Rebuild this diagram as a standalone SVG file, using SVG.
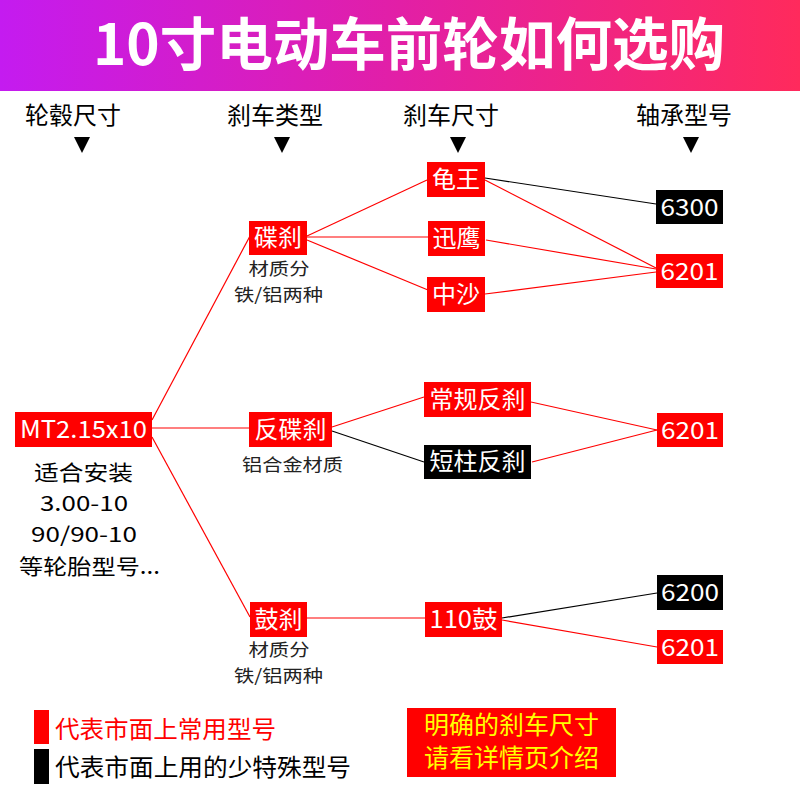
<svg xmlns="http://www.w3.org/2000/svg" width="800" height="800" viewBox="0 0 800 800">
<defs>
<linearGradient id="hdr" x1="0" y1="0" x2="1" y2="0">
<stop offset="0" stop-color="#c41bf0"/>
<stop offset="0.5" stop-color="#e21fa6"/>
<stop offset="1" stop-color="#ff2a5c"/>
</linearGradient>
</defs>
<style>
text{font-family:"Noto Sans CJK SC","Noto Sans",sans-serif}
.title{font-size:57px;font-weight:bold;fill:#fff}
.col{font-size:24px;fill:#000}
.tri{fill:#000}
.red{fill:#ff0000}
.blk{fill:#000}
.nt{font-size:24px;fill:#fff;text-anchor:middle}
.sub{font-size:17.5px;fill:#222;text-anchor:middle}
.big{font-size:21px;fill:#000;text-anchor:middle}
.lr{stroke:#ff0000;stroke-width:1.2;fill:none}
.lb{stroke:#000;stroke-width:1.2;fill:none}
.leg{font-size:24px}
.yel{font-size:25px;fill:#ffff00;text-anchor:middle}
</style>
<rect x="0" y="0" width="800" height="91" fill="url(#hdr)"/>
<text class="title" x="409" y="65" text-anchor="middle" textLength="632" lengthAdjust="spacingAndGlyphs">10寸电动车前轮如何选购</text>

<g id="headers">
<text class="col" x="73" y="124" text-anchor="middle">轮毂尺寸</text>
<text class="col" x="275" y="124" text-anchor="middle">刹车类型</text>
<text class="col" x="451" y="124" text-anchor="middle">刹车尺寸</text>
<text class="col" x="684" y="124" text-anchor="middle">轴承型号</text>
<path class="tri" d="M74,137 L90,137 L82,153 Z"/>
<path class="tri" d="M274,137 L290,137 L282,153 Z"/>
<path class="tri" d="M450,137 L466,137 L458,153 Z"/>
<path class="tri" d="M683,137 L699,137 L691,153 Z"/>
</g>

<g id="connectors">
<line class="lr" x1="152" y1="420" x2="250" y2="236"/>
<line class="lr" x1="152" y1="428" x2="250" y2="428"/>
<line class="lr" x1="152" y1="437" x2="250" y2="617"/>
<line class="lr" x1="307" y1="236" x2="427" y2="180"/>
<line class="lr" x1="307" y1="237" x2="428" y2="237"/>
<line class="lr" x1="307" y1="240" x2="428" y2="290"/>
<line class="lb" x1="485" y1="178" x2="656" y2="204"/>
<line class="lr" x1="485" y1="180" x2="656" y2="268"/>
<line class="lr" x1="486" y1="240" x2="656" y2="269"/>
<line class="lr" x1="485" y1="294" x2="656" y2="272"/>
<line class="lr" x1="332" y1="427" x2="424" y2="397"/>
<line class="lb" x1="332" y1="431" x2="424" y2="462"/>
<line class="lr" x1="531" y1="402" x2="657" y2="430"/>
<line class="lr" x1="532" y1="462" x2="657" y2="430"/>
<line class="lr" x1="307" y1="618" x2="425" y2="618"/>
<line class="lb" x1="502" y1="618" x2="657" y2="593"/>
<line class="lr" x1="502" y1="620" x2="657" y2="647"/>
</g>

<g id="n-mt">
<rect class="red" x="15" y="412" width="137" height="35"/>
<text class="nt" x="83.5" y="438" textLength="127" lengthAdjust="spacingAndGlyphs">MT2.15x10</text>
<text class="big" x="83.5" y="480" textLength="99" lengthAdjust="spacingAndGlyphs">适合安装</text>
<text class="big" x="84" y="511" textLength="88" lengthAdjust="spacingAndGlyphs">3.00-10</text>
<text class="big" x="84" y="542" textLength="106" lengthAdjust="spacingAndGlyphs">90/90-10</text>
<text class="big" x="89.5" y="574" textLength="141" lengthAdjust="spacingAndGlyphs">等轮胎型号...</text>
</g>

<g id="n-diebrake">
<rect class="red" x="249" y="221" width="58" height="34"/>
<text class="nt" x="278" y="246">碟刹</text>
<text class="sub" x="279" y="275" textLength="61" lengthAdjust="spacingAndGlyphs">材质分</text>
<text class="sub" x="278.5" y="301" textLength="89" lengthAdjust="spacingAndGlyphs">铁/铝两种</text>
</g>

<g id="n-fandie">
<rect class="red" x="249" y="412" width="83" height="35"/>
<text class="nt" x="290.5" y="438">反碟刹</text>
<text class="sub" x="292.5" y="471" textLength="101" lengthAdjust="spacingAndGlyphs">铝合金材质</text>
</g>

<g id="n-gu">
<rect class="red" x="250" y="602" width="57" height="35"/>
<text class="nt" x="278.5" y="628">鼓刹</text>
<text class="sub" x="279" y="656" textLength="61" lengthAdjust="spacingAndGlyphs">材质分</text>
<text class="sub" x="278.5" y="682" textLength="89" lengthAdjust="spacingAndGlyphs">铁/铝两种</text>
</g>

<g id="n-guiwang">
<rect class="red" x="427" y="162" width="58" height="35"/>
<text class="nt" x="456" y="188">龟王</text>
</g>
<g id="n-xunying">
<rect class="red" x="428" y="221" width="57" height="35"/>
<text class="nt" x="456.5" y="247">迅鹰</text>
</g>
<g id="n-zhongsha">
<rect class="red" x="427" y="277" width="58" height="35"/>
<text class="nt" x="456" y="303">中沙</text>
</g>
<g id="n-changgui">
<rect class="red" x="424" y="382" width="107" height="35"/>
<text class="nt" x="477.5" y="408">常规反刹</text>
</g>
<g id="n-duanzhu">
<rect class="blk" x="424" y="445" width="107" height="34"/>
<text class="nt" x="477.5" y="470">短柱反刹</text>
</g>
<g id="n-110gu">
<rect class="red" x="425" y="602" width="77" height="35"/>
<text class="nt" x="463.5" y="628" textLength="68" lengthAdjust="spacingAndGlyphs">110鼓</text>
</g>

<g id="n-6300">
<rect class="blk" x="656" y="190" width="67" height="34"/>
<text class="nt" x="689.5" y="216" textLength="58" lengthAdjust="spacingAndGlyphs">6300</text>
</g>
<g id="n-6201a">
<rect class="red" x="656" y="254" width="67" height="34"/>
<text class="nt" x="689.5" y="280" textLength="58" lengthAdjust="spacingAndGlyphs">6201</text>
</g>
<g id="n-6201b">
<rect class="red" x="657" y="413" width="66" height="34"/>
<text class="nt" x="690" y="439" textLength="58" lengthAdjust="spacingAndGlyphs">6201</text>
</g>
<g id="n-6200">
<rect class="blk" x="657" y="575" width="66" height="35"/>
<text class="nt" x="690" y="601" textLength="58" lengthAdjust="spacingAndGlyphs">6200</text>
</g>
<g id="n-6201c">
<rect class="red" x="657" y="630" width="66" height="34"/>
<text class="nt" x="690" y="656" textLength="58" lengthAdjust="spacingAndGlyphs">6201</text>
</g>

<g id="legend">
<rect class="red" x="34" y="710" width="15" height="34"/>
<text class="leg" x="55" y="738" fill="#ff0000" textLength="221" lengthAdjust="spacingAndGlyphs">代表市面上常用型号</text>
<rect class="blk" x="34" y="749" width="15" height="35"/>
<text class="leg" x="55" y="776" fill="#000" textLength="296" lengthAdjust="spacingAndGlyphs">代表市面上用的少特殊型号</text>
</g>

<g id="note">
<rect class="red" x="407" y="708" width="209" height="69"/>
<text class="yel" x="511.5" y="734">明确的刹车尺寸</text>
<text class="yel" x="511.5" y="767">请看详情页介绍</text>
</g>
</svg>
